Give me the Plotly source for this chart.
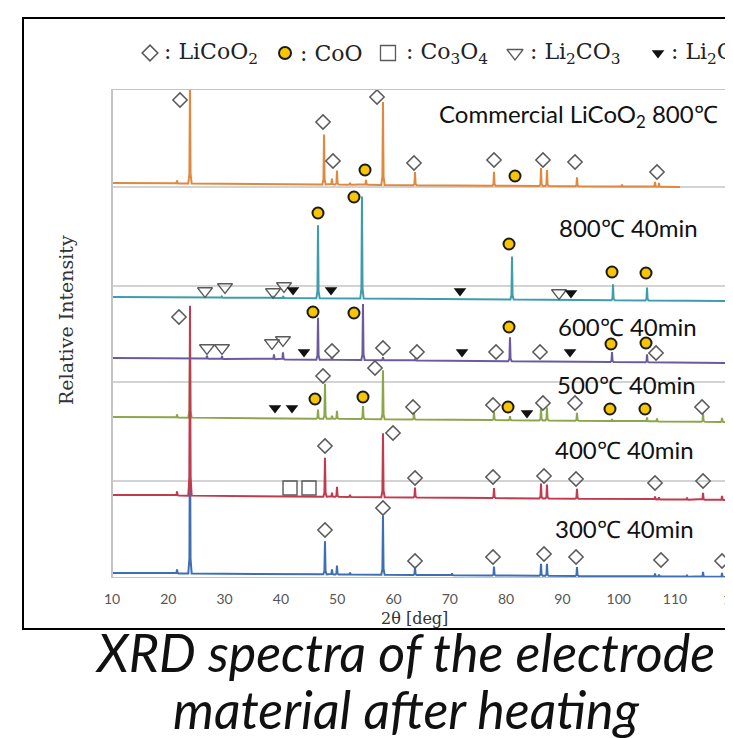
import plotly.graph_objects as go

# ---------------- data (2theta in deg, intensity in relative units) ----------------
x_start = 10.0
x_end_full = 120.3
x_end_commercial = 110.9
tick_vals = [10, 20, 30, 40, 50, 60, 70, 80, 90, 100, 110]
edge_tick_label = "120"

sample_names = ["Commercial LiCoO<sub>2</sub> 800℃", "800℃ 40min", "600℃ 40min",
                "500℃ 40min", "400℃ 40min", "300℃ 40min"]
sample_colors = ["#e0883e", "#3f9dab", "#6b5b9e", "#8ca64c", "#c23a4e", "#3e6fb2"]

# baseline level at left / right end of each pattern
base_commercial = [395, 391]
base_800 = [281, 277]
base_600 = [220, 215]
base_500 = [161, 156]
base_400 = [83, 78]
base_300 = [5, 1]

# peak positions (2theta) and heights above baseline
pos_commercial = [21.55, 23.85, 47.66, 49.07, 49.96, 52.27, 55.12, 58.13, 63.82, 77.85, 86.2, 87.26, 92.59, 100.59, 106.45, 107.16]
hgt_commercial = [3, 100, 50, 6, 14, 2, 5, 83, 13, 14, 18, 16, 9, 2, 5, 4]

pos_800 = [29.5, 38.6, 40.4, 46.59, 54.4, 81.05, 98.99, 105.03]
hgt_800 = [1, 2, 2, 73, 102, 43, 16, 13]

pos_600 = [26.87, 29.54, 38.77, 40.37, 46.59, 49.07, 54.58, 58.13, 63.82, 80.69, 98.81, 105.03]
hgt_600 = [3, 3, 5, 7, 42, 2, 56, 3, 1, 24, 10, 8]

pos_500 = [21.55, 23.85, 46.59, 47.83, 49.07, 49.96, 54.58, 58.13, 63.64, 77.85, 80.69, 86.2, 87.26, 92.59, 98.81, 105.03, 106.8, 114.98, 118.35]
hgt_500 = [3, 70, 9, 35, 3, 8, 13, 49, 7, 8, 4, 12, 13, 8, 2, 4, 3, 8, 4]

pos_400 = [21.55, 23.85, 47.83, 49.07, 49.96, 52.27, 58.13, 63.82, 77.85, 86.2, 87.26, 92.59, 106.45, 107.16, 112.13, 114.98, 118.35]
hgt_400 = [4, 190, 39, 4, 10, 2, 64, 10, 10, 15, 14, 10, 3, 2, 2, 7, 4]

pos_300 = [21.55, 23.85, 47.83, 49.07, 49.96, 52.27, 58.13, 63.82, 70.39, 77.85, 86.2, 87.26, 92.59, 106.45, 107.16, 112.13, 114.98, 118.35]
hgt_300 = [4, 150, 33, 5, 9, 2, 59, 8, 2, 9, 12, 12, 9, 3, 2, 2, 5, 4]

# phase markers (2theta, y)
licoo2_x = [22.08, 47.48, 49.25, 57.07, 63.64, 77.85, 86.55, 92.24, 106.8,
            21.9, 49.07, 58.13, 64.17, 78.21, 86.02, 106.63,
            47.48, 56.71, 63.46, 77.67, 86.55, 92.24, 114.8,
            47.83, 59.91, 63.82, 77.67, 86.73, 92.42, 106.45, 114.98,
            47.83, 58.13, 63.82, 77.67, 86.73, 92.42, 107.51, 118.35]
licoo2_y = [478, 456, 417, 481, 415, 418, 418, 416, 406,
            261, 227, 230, 226, 226, 226, 225,
            202, 210, 171, 173, 175, 175, 171,
            132, 145, 100, 101, 102, 99, 95, 97,
            48, 70, 17, 21, 24, 21, 18, 17]
coo_x = [54.94, 81.58, 46.59, 52.98, 80.52, 98.81, 104.85, 45.7, 52.98, 80.52, 98.63, 104.85,
         46.06, 54.58, 80.34, 98.45, 104.67]
coo_y = [408, 402, 365, 381, 334, 306, 305, 266, 265, 251, 234, 235, 179, 181, 171, 169, 169]
co3o4_x = [41.62, 44.99]
co3o4_y = [90, 90]
li2co3_x = [26.52, 30.07, 38.6, 40.55, 89.4, 26.87, 29.54, 38.42, 40.37]
li2co3_y = [287, 291, 286, 292, 285, 230, 230, 235, 238]
filled_x = [42.15, 48.9, 71.81, 91.53, 44.1, 72.17, 91.35, 38.95, 41.97, 83.71]
filled_y = [288, 288, 287, 285, 226, 226, 226, 170, 170, 165]

separator_levels = [391, 292, 196, 97]

legend_marker_x = [16.75, 40.73, 59.02, 81.58, 106.98]
legend_text_x = [18.9, 43.0, 61.8, 83.9, 109.0]
legend_texts = [": LiCoO<sub>2</sub>", ": CoO", ": Co<sub>3</sub>O<sub>4</sub>",
                ": Li<sub>2</sub>CO<sub>3</sub>", ": Li<sub>2</sub>CO<sub>3</sub>"]

# ---------------- figure ----------------
# the page body has an 8px margin: figure is placed at (8, 8) in the window
OFF = 8
W, H = 733 - OFF, 738 - OFF
PAGE_L, PAGE_T, PAGE_B = 112, 89, 578    # page-pixel frame of the pattern area
Y_TOP = PAGE_B - PAGE_T                  # 489 units = plot height
AREA_H = PAGE_B - OFF                    # margin t = 0
PLOT_W = 733 - PAGE_L


def px_x(px):
    return (px - PAGE_L) / PLOT_W


def px_y(py):
    return (PAGE_B - py) / AREA_H


def pattern(pos, hgt, base, x_end):
    b0, b1 = base

    def bl(t):
        return b0 + (b1 - b0) * (t - x_start) / (x_end - x_start)

    xs, ys = [x_start], [b0]
    w = 0.3
    for p, h in sorted(zip(pos, hgt)):
        b = bl(p)
        xs += [p - w, p - 0.1, p, p + 0.1, p + w]
        ys += [b, b + 0.1 * h, b + h, b + 0.1 * h, b]
    xs.append(x_end)
    ys.append(b1)
    return xs, ys


fig = go.Figure()

series = [
    (pos_300, hgt_300, base_300, x_end_full, 5),
    (pos_500, hgt_500, base_500, x_end_full, 3),
    (pos_400, hgt_400, base_400, x_end_full, 4),
    (pos_600, hgt_600, base_600, x_end_full, 2),
    (pos_800, hgt_800, base_800, x_end_full, 1),
    (pos_commercial, hgt_commercial, base_commercial, x_end_commercial, 0),
]
for pos, hgt, base, xe, ci in series:
    xs, ys = pattern(pos, hgt, base, xe)
    fig.add_trace(go.Scatter(x=xs, y=ys, mode="lines",
                             line=dict(color=sample_colors[ci], width=2),
                             showlegend=False, hoverinfo="skip"))

mk_gray = "#5a5a5a"
fig.add_trace(go.Scatter(x=licoo2_x, y=licoo2_y, mode="markers", showlegend=False,
                         marker=dict(symbol="diamond-open", size=11, color=mk_gray,
                                     line=dict(width=1.5, color=mk_gray))))
fig.add_trace(go.Scatter(x=coo_x, y=coo_y, mode="markers", showlegend=False,
                         marker=dict(symbol="circle", size=11, color="#f7c600",
                                     line=dict(width=2, color="#1a1a1a"))))
fig.add_trace(go.Scatter(x=co3o4_x, y=co3o4_y, mode="markers", showlegend=False,
                         marker=dict(symbol="square-open", size=14, color=mk_gray,
                                     line=dict(width=1.4, color=mk_gray))))
fig.add_trace(go.Scatter(x=li2co3_x, y=li2co3_y, mode="markers", showlegend=False,
                         marker=dict(symbol="triangle-down-open", size=13, color=mk_gray,
                                     line=dict(width=1.3, color=mk_gray))))
fig.add_trace(go.Scatter(x=filled_x, y=filled_y, mode="markers", showlegend=False,
                         marker=dict(symbol="triangle-down", size=11, color="#111111",
                                     line=dict(width=0))))

# legend row markers (second y axis above the pattern area)
leg_y = PAGE_T - 53
leg_symbols = ["diamond-open", "circle", "square-open", "triangle-down-open", "triangle-down"]
leg_sizes = [12, 12, 15, 14, 11]
leg_fill = [mk_gray, "#f7c600", mk_gray, mk_gray, "#111111"]
leg_line = [mk_gray, "#1a1a1a", mk_gray, mk_gray, "#111111"]
leg_lw = [1.6, 2, 1.3, 1.3, 0]
for i in range(5):
    fig.add_trace(go.Scatter(x=[legend_marker_x[i]], y=[leg_y], yaxis="y2", mode="markers",
                             showlegend=False, hoverinfo="skip",
                             marker=dict(symbol=leg_symbols[i], size=leg_sizes[i], color=leg_fill[i],
                                         line=dict(width=leg_lw[i], color=leg_line[i]))))

annotations = []
for i in range(5):
    annotations.append(dict(x=legend_text_x[i], y=leg_y, xref="x", yref="y2", text=legend_texts[i],
                            showarrow=False, xanchor="left", yanchor="middle",
                            font=dict(family="DejaVu Serif", size=22, color="#222")))

label_px = [(437, 115), (557, 227), (556, 326), (555, 384), (553, 449), (553, 528)]
for name, (px, py) in zip(sample_names, label_px):
    annotations.append(dict(x=px_x(px), y=PAGE_B - py, xref="paper", yref="y",
                            text=name, showarrow=False, xanchor="left", yanchor="middle",
                            font=dict(family="Lato", size=24, color="#111")))

# last tick label, cut by the right edge of the picture
annotations.append(dict(x=px_x(735), y=px_y(598), xref="paper", yref="paper",
                        text=edge_tick_label, showarrow=False, xanchor="center", yanchor="middle",
                        font=dict(family="Lato", size=14, color="#555")))
annotations.append(dict(x=px_x(66), y=px_y(320), xref="paper", yref="paper",
                        text="Relative Intensity", textangle=-90, showarrow=False,
                        xanchor="center", yanchor="middle",
                        font=dict(family="DejaVu Serif", size=19, color="#333")))
annotations.append(dict(x=px_x(414), y=px_y(618), xref="paper", yref="paper", text="2θ [deg]",
                        showarrow=False, xanchor="center", yanchor="middle",
                        font=dict(family="DejaVu Serif", size=16, color="#333")))
annotations.append(dict(x=px_x(405), y=px_y(652), xref="paper", yref="paper",
                        text="<i>XRD spectra of the electrode</i>", showarrow=False,
                        xanchor="center", yanchor="middle",
                        font=dict(family="Lato", size=52, color="#111")))
annotations.append(dict(x=px_x(406), y=px_y(709), xref="paper", yref="paper",
                        text="<i>material after heating</i>", showarrow=False,
                        xanchor="center", yanchor="middle",
                        font=dict(family="Lato", size=52, color="#111")))

shapes = []
for lv in separator_levels:
    shapes.append(dict(type="line", xref="paper", yref="y", x0=0, x1=1, y0=lv, y1=lv,
                       line=dict(color="#c4c4c4", width=1.6), layer="below"))
frame_c = "#c4c4c4"
shapes.append(dict(type="line", xref="paper", yref="y", x0=0, x1=1, y0=Y_TOP, y1=Y_TOP,
                   line=dict(color=frame_c, width=2)))
shapes.append(dict(type="line", xref="paper", yref="y", x0=0, x1=1, y0=0, y1=0,
                   line=dict(color=frame_c, width=2)))
shapes.append(dict(type="line", xref="paper", yref="y", x0=0, x1=0, y0=0, y1=Y_TOP,
                   line=dict(color=frame_c, width=2)))
# outer black border of the pasted figure
shapes.append(dict(type="rect", xref="paper", yref="paper",
                   x0=px_x(23), x1=1.2, y0=px_y(629), y1=px_y(18),
                   line=dict(color="#000", width=2), fillcolor="rgba(0,0,0,0)"))

fig.update_layout(
    width=W, height=H,
    margin=dict(l=PAGE_L - OFF, r=0, t=0, b=H - AREA_H, pad=0),
    paper_bgcolor="white", plot_bgcolor="white",
    showlegend=False,
    xaxis=dict(range=[x_start, x_end_full], tickvals=tick_vals, ticks="", showgrid=False,
               zeroline=False, showline=False, ticklabelstandoff=11,
               tickfont=dict(family="Lato", size=14, color="#555")),
    yaxis=dict(domain=[0, Y_TOP / AREA_H], range=[0, Y_TOP], visible=False, fixedrange=True),
    yaxis2=dict(domain=[Y_TOP / AREA_H, 1.0], range=[0, AREA_H - Y_TOP], visible=False, anchor="x"),
    annotations=annotations,
    shapes=shapes,
)

fig.write_html("out.html")
